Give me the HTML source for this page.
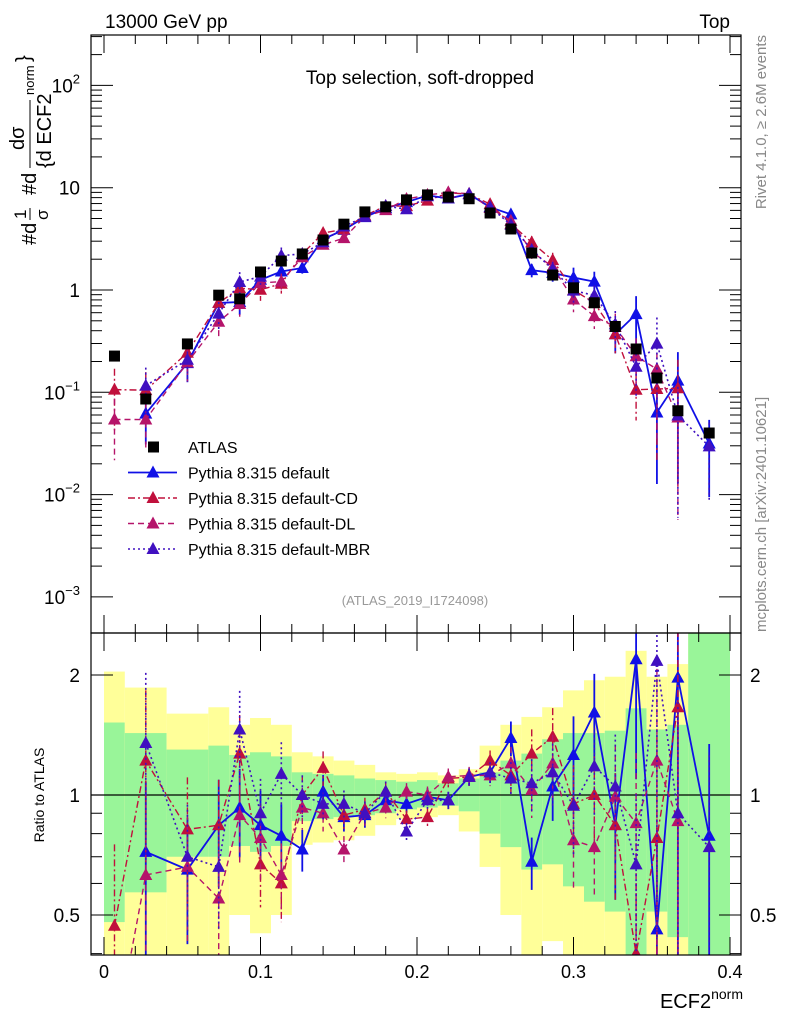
<!DOCTYPE html>
<html><head><meta charset="utf-8"><style>
body{margin:0;background:#fff;}
svg{display:block;font-family:"Liberation Sans",sans-serif;}
</style></head><body>
<svg id="c" width="786" height="1024" viewBox="0 0 786 1024" xmlns="http://www.w3.org/2000/svg">
<defs>
<clipPath id="clipMain"><rect x="91" y="35" width="650" height="598"/></clipPath>
<clipPath id="clipRatio"><rect x="91" y="633" width="650" height="322"/></clipPath>
</defs>
<rect x="0" y="0" width="786" height="1024" fill="#fff"/>
<g id="bands" clip-path="url(#clipRatio)"></g><g id="grid"></g>
<g id="marksMain" clip-path="url(#clipMain)"></g>
<g id="marksRatio" clip-path="url(#clipRatio)"></g>
<rect x="91" y="35" width="650" height="598" fill="none" stroke="#000" stroke-width="1.2"/>
<rect x="91" y="633" width="650" height="322" fill="none" stroke="#000" stroke-width="1.2"/>
<text x="105" y="28" font-size="19">13000 GeV pp</text>
<text x="730" y="28" font-size="19" text-anchor="end">Top</text>
<text x="420" y="84" font-size="19" text-anchor="middle">Top selection, soft-dropped</text>
<text x="415" y="605" font-size="13" fill="#999" text-anchor="middle">(ATLAS_2019_I1724098)</text>
<text transform="translate(766,35) rotate(-90)" font-size="15" fill="#888" text-anchor="end">Rivet 4.1.0, ≥ 2.6M events</text>
<text transform="translate(766,632) rotate(-90)" font-size="15" fill="#888">mcplots.cern.ch [arXiv:2401.10621]</text>
<g transform="translate(36,245) rotate(-90)" font-size="20">
<text x="0" y="0">#d</text><text x="26" y="-10" font-size="17">1</text><line x1="25" y1="-6" x2="37" y2="-6" stroke="#000"/><text x="25" y="12" font-size="17">σ</text>
<text x="50" y="0">#d</text><line x1="77" y1="-6" x2="145" y2="-6" stroke="#000"/><text x="95" y="-12" font-size="20">dσ</text><text x="77" y="15" font-size="20">{d ECF2</text><text x="150" y="-2" font-size="13">norm</text><text x="183" y="-6">}</text>
</g>
<text transform="translate(44,795) rotate(-90)" font-size="14" text-anchor="middle">Ratio to ATLAS</text>
<text x="743" y="1008" font-size="20" text-anchor="end">ECF2<tspan font-size="14" dy="-9">norm</tspan></text>
<g id="legend"></g>
</svg>
<script>
const binEdges=[0,0.0133,0.04,0.0667,0.08,0.0933,0.1067,0.12,0.1333,0.1467,0.16,0.1733,0.1867,0.2,0.2133,0.2267,0.24,0.2533,0.2667,0.28,0.2933,0.3067,0.32,0.3333,0.3467,0.36,0.3733,0.4];
const xCenters=[0.0067,0.0267,0.0533,0.0733,0.0867,0.1,0.1133,0.1267,0.14,0.1533,0.1667,0.18,0.1933,0.2067,0.22,0.2333,0.2467,0.26,0.2733,0.2867,0.3,0.3133,0.3267,0.34,0.3533,0.3667,0.3867];
const atlas=[0.226,0.086,0.297,0.89,0.82,1.5,1.92,2.25,3.08,4.4,5.8,6.5,7.6,8.5,8.1,7.8,5.66,3.95,2.3,1.4,1.05,0.75,0.44,0.265,0.138,0.066,0.04];
const yelHi=[2.04,1.86,1.6,1.66,1.5,1.56,1.5,1.28,1.25,1.22,1.19,1.14,1.13,1.14,1.12,1.16,1.33,1.5,1.57,1.66,1.83,1.94,1.98,2.3,1.98,2.13,3];
const yelLo=[0.3,0.3,0.3,0.3,0.5,0.45,0.5,0.75,0.76,0.77,0.79,0.84,0.87,0.88,0.89,0.81,0.66,0.5,0.3,0.43,0.3,0.3,0.3,0.3,0.3,0.3,0.3];
const grnHi=[1.52,1.43,1.3,1.33,1.26,1.28,1.25,1.14,1.13,1.12,1.1,1.09,1.08,1.09,1.07,1.1,1.14,1.22,1.27,1.38,1.43,1.43,1.45,1.65,1.46,1.5,3];
const grnLo=[0.48,0.57,0.7,0.7,0.745,0.72,0.745,0.86,0.87,0.88,0.89,0.9,0.92,0.93,0.94,0.91,0.8,0.74,0.65,0.67,0.59,0.54,0.51,0.3,0.51,0.44,0.3];
const rDefault=[null,0.72,0.65,0.84,0.93,0.84,0.79,0.73,1.02,0.88,0.89,0.97,0.95,0.99,0.97,1.11,1.14,1.39,0.68,1.05,1.26,1.61,0.84,2.19,0.46,1.97,0.79];
const rCD=[0.47,1.22,0.82,0.84,1.27,0.67,0.6,1.0,1.17,0.89,0.92,1.02,0.87,0.88,1.1,1.11,1.22,1.12,1.27,1.4,0.95,1.0,0.84,0.4,0.78,1.66,null];
const rDL=[0.24,0.63,0.66,0.55,0.89,0.78,0.63,0.93,0.9,0.73,0.9,0.93,1.02,1.0,1.11,1.12,1.12,1.2,1.03,1.2,0.77,0.74,0.99,0.85,1.22,0.86,null];
const rMBR=[null,1.35,0.7,0.66,1.46,0.9,1.13,1.0,0.95,0.95,0.9,1.02,0.81,0.97,0.97,1.11,1.14,1.1,1.07,1.14,0.94,1.18,1.05,0.67,2.17,0.9,0.74];
const mcErr=[0.6,0.5,0.35,0.3,0.25,0.22,0.2,0.12,0.1,0.08,0.07,0.06,0.05,0.05,0.05,0.05,0.06,0.1,0.15,0.18,0.25,0.25,0.35,0.5,0.8,0.9,0.7];
const xTicks=[0,0.1,0.2,0.3,0.4];
const xTickLabels=["0","0.1","0.2","0.3","0.4"];
const yDecades=[-3,-2,-1,0,1,2];
const yDecadeLabels=["10^-3","10^-2","10^-1","1","10","10^2"];
const rTicks=[0.5,1,2];

const NS="http://www.w3.org/2000/svg";
const X=v=>104+v*1565;
const Y=v=>290-Math.log10(v)*102.3;
const R=v=>795-Math.log2(v)*120;
function el(tag,attrs,parent){const e=document.createElementNS(NS,tag);for(const k in attrs)e.setAttribute(k,attrs[k]);parent.appendChild(e);return e;}
const bands=document.getElementById('bands'),grid=document.getElementById('grid'),marksMain=document.getElementById('marksMain'),marksRatio=document.getElementById('marksRatio'),leg=document.getElementById('legend');
const clampR=v=>Math.min(Math.max(R(v),600),990);
for(let i=0;i<xCenters.length;i++){
  const x0=X(binEdges[i]),x1=X(binEdges[i+1]);
  let r=el('rect',{x:x0,y:clampR(yelHi[i]),width:x1-x0,height:clampR(yelLo[i])-clampR(yelHi[i]),fill:'#ffff99'},bands);
  
  
  r=el('rect',{x:x0,y:clampR(grnHi[i]),width:x1-x0,height:clampR(grnLo[i])-clampR(grnHi[i]),fill:'#99f599'},bands);
  
  
}
for(let v=0;v<=0.4001;v+=0.02){
  const major=Math.abs(v*10-Math.round(v*10))<1e-6;const L=major?18:9;
  for(const [top,bot] of [[35,633],[633,955]]){
    el('line',{x1:X(v),y1:bot,x2:X(v),y2:bot-L,stroke:'#000'},grid);
    el('line',{x1:X(v),y1:top,x2:X(v),y2:top+L,stroke:'#000'},grid);
  }
}
xTicks.forEach((v,i)=>{const t=el('text',{x:X(v),y:978,'font-size':18,'text-anchor':'middle'},grid);t.textContent=xTickLabels[i];

});
yDecades.forEach((d,i)=>{
  for(let m=1;m<10;m++){const y=Y(m*Math.pow(10,d));if(y<35||y>633)continue;const L=m==1?22:11;
    el('line',{x1:91,y1:y,x2:91+L,y2:y,stroke:'#000'},grid);el('line',{x1:741,y1:y,x2:741-L,y2:y,stroke:'#000'},grid);}
  const lab=yDecadeLabels[i];const t=el('text',{x:80,y:Y(Math.pow(10,d))+7,'font-size':19,'text-anchor':'end'},grid);
  
  
  if(lab.startsWith('10^')){t.textContent='10';const s=el('tspan',{dy:-9,'font-size':13},t);s.textContent=lab.slice(3).replace('-','−');}else t.textContent=lab;
});
[0.4,0.5,0.6,0.7,0.8,0.9,1,2].forEach(v=>{const y=R(v);const L=(v==0.5||v==1||v==2)?22:11;
  el('line',{x1:91,y1:y,x2:91+L,y2:y,stroke:'#000'},grid);el('line',{x1:741,y1:y,x2:741-L,y2:y,stroke:'#000'},grid);});
rTicks.forEach(v=>{for(const [x,a] of [[80,'end'],[750,'start']]){const t=el('text',{x:x,y:R(v)+7,'font-size':19,'text-anchor':a},grid);t.textContent=String(v);

}});
el('line',{x1:91,y1:R(1),x2:741,y2:R(1),stroke:'#000','stroke-width':1.3},grid);

function tri(x,y,c,parent){return el('polygon',{points:`${x},${y-7} ${x-6.5},${y+5} ${x+6.5},${y+5}`,fill:c},parent);}
const series=[
 {name:'default',r:rDefault,c:'#1010e6',dash:'',w:1.8},
 {name:'cd',r:rCD,c:'#c0103c',dash:'7,3,2,3',w:1.4},
 {name:'dl',r:rDL,c:'#b5146a',dash:'6,4',w:1.4},
 {name:'mbr',r:rMBR,c:'#4010c0',dash:'2,3',w:1.6}];
const clampM=y=>Math.min(Math.max(y,20),700);
series.forEach(s=>{
  const g=el('g',{},marksMain);
  
  
  const gr=el('g',{},marksRatio);
  
  
  let pm=[],pr=[];
  s.r.forEach((r,i)=>{if(r==null){pm.push(null);pr.push(null);return;}
    const v=r*atlas[i];pm.push([X(xCenters[i]),Y(v)]);pr.push([X(xCenters[i]),R(r)]);
    const e=mcErr[i];
    el('line',{x1:X(xCenters[i]),y1:clampM(Y(v*(1+e))),x2:X(xCenters[i]),y2:clampM(Y(Math.max(v*(1-e),1e-5))),stroke:s.c,'stroke-width':s.w,'stroke-dasharray':s.dash},g);
    el('line',{x1:X(xCenters[i]),y1:clampR(r*(1+e)),x2:X(xCenters[i]),y2:clampR(Math.max(r*(1-e),0.01)),stroke:s.c,'stroke-width':s.w,'stroke-dasharray':s.dash},gr);
  });
  const path=pts=>{let d='',pen=false;pts.forEach(p=>{if(!p){pen=false;return;}d+=(pen?'L':'M')+p[0]+','+p[1];pen=true;});return d;};
  el('path',{d:path(pm),fill:'none',stroke:s.c,'stroke-width':s.w,'stroke-dasharray':s.dash},g);
  el('path',{d:path(pr),fill:'none',stroke:s.c,'stroke-width':s.w,'stroke-dasharray':s.dash},gr);
  pm.forEach(p=>{if(p){const t=tri(p[0],p[1],s.c,g);
    }});
  pr.forEach(p=>{if(p){const t=tri(p[0],p[1],s.c,gr);
    }});
});
atlas.forEach((v,i)=>{const r=el('rect',{x:X(xCenters[i])-5.5,y:Y(v)-5.5,width:11,height:11,fill:'#000'},marksMain);
  
  });
const legNames=['ATLAS','Pythia 8.315 default','Pythia 8.315 default-CD','Pythia 8.315 default-DL','Pythia 8.315 default-MBR'];
legNames.forEach((n,i)=>{const y=447+i*25.5;const g=el('g',{},leg);
  
  
  if(i==0)el('rect',{x:148,y:y-5.5,width:11,height:11,fill:'#000'},g);
  else{const s=series[i-1];el('line',{x1:128,y1:y,x2:177,y2:y,stroke:s.c,'stroke-width':s.w,'stroke-dasharray':s.dash},g);tri(153,y,s.c,g);}
  const t=el('text',{x:188,y:y+6,'font-size':16},g);t.textContent=n;});
</script>
</body></html>
